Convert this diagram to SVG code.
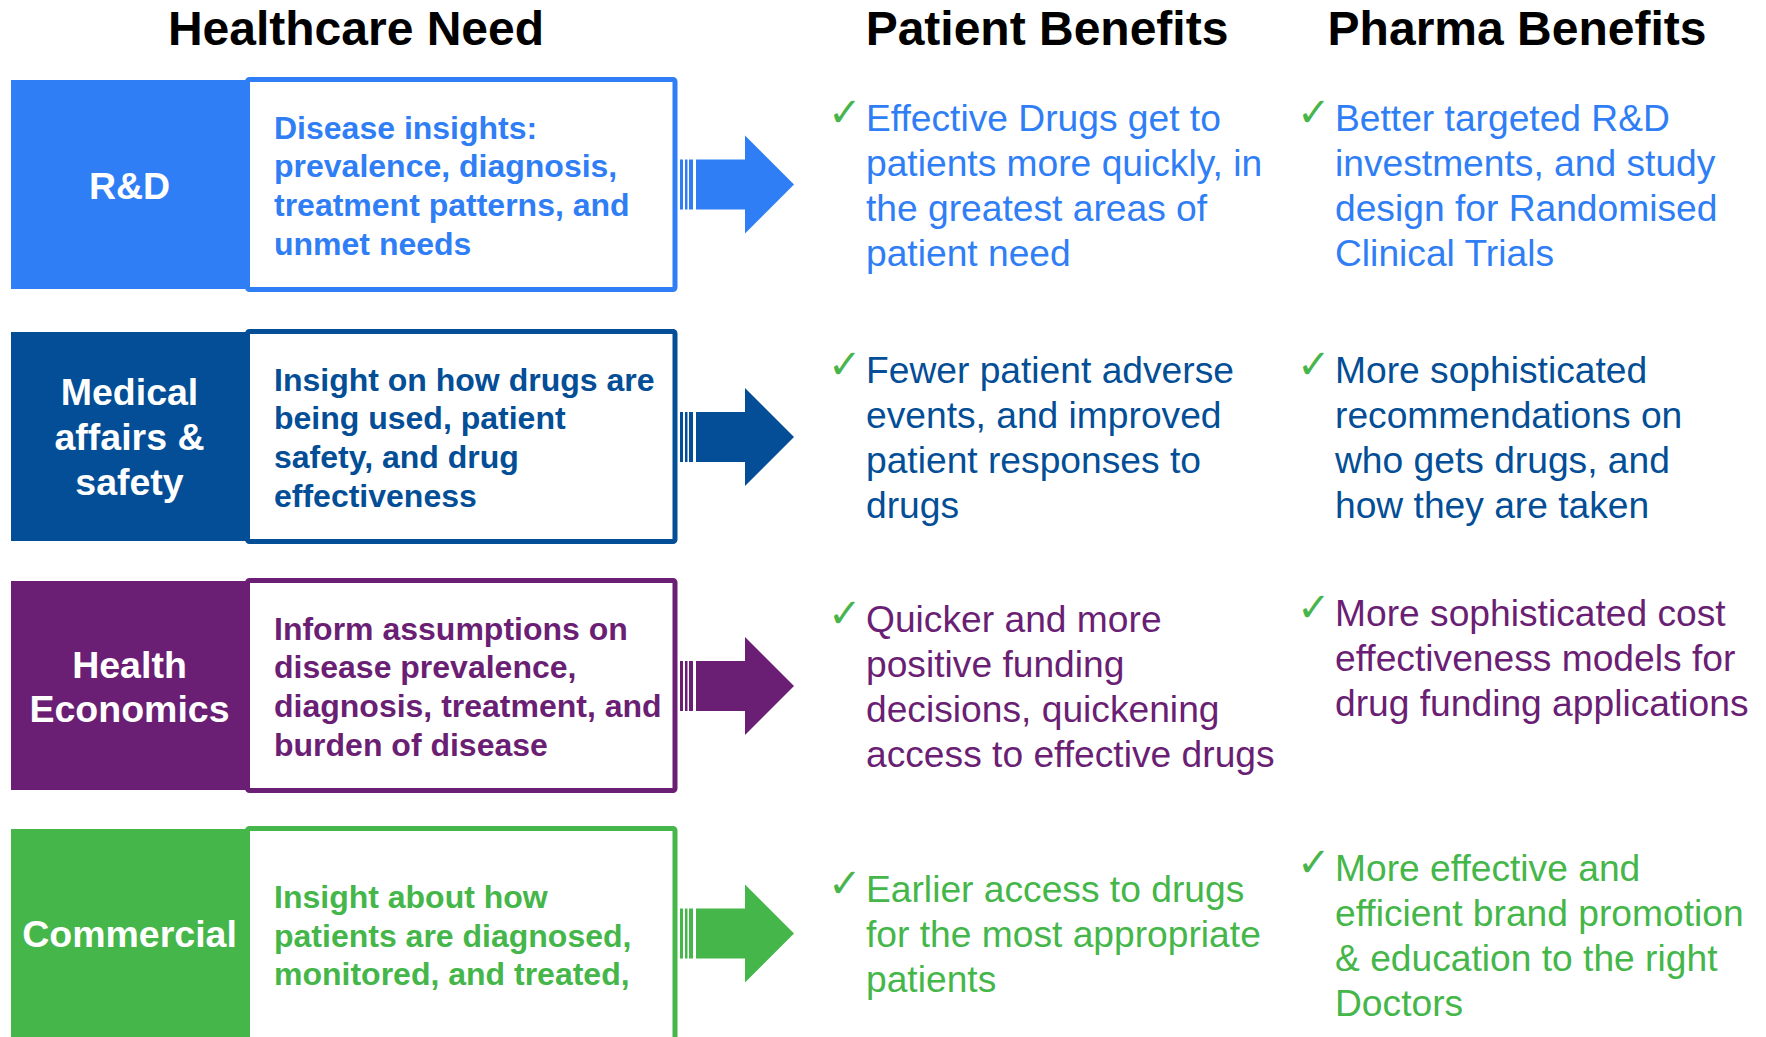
<svg xmlns="http://www.w3.org/2000/svg" xmlns:xlink="http://www.w3.org/1999/xlink" width="1766" height="1037" viewBox="0 0 1766 1037">
<style>
  .title { font-family: "Liberation Sans", Arial, sans-serif; font-weight: bold; font-size: 48px; fill: #000; text-anchor: middle; }
  .lab { font-family: "Liberation Sans", Arial, sans-serif; font-weight: bold; font-size: 37.5px; fill: #fff; text-anchor: middle; }
  .box { font-family: "Liberation Sans", Arial, sans-serif; font-weight: bold; font-size: 32px; }
  .ben { font-family: "Liberation Sans", Arial, sans-serif; font-size: 37.2px; }
  .chk { font-family: "DejaVu Sans", sans-serif; font-size: 40px; fill: #47B54B; }
  .frame { fill: #fff; stroke-width: 5; stroke-linejoin: round; }
  .c1 { fill: #2F7EF6; } .s1 { stroke: #2F7EF6; }
  .c2 { fill: #034E96; } .s2 { stroke: #034E96; }
  .c3 { fill: #6A1F74; } .s3 { stroke: #6A1F74; }
  .c4 { fill: #45B649; } .s4 { stroke: #45B649; }
</style>
<defs>
  <g id="arrow">
    <rect x="680" y="-25" width="3" height="50"/>
    <rect x="685" y="-25" width="2.5" height="50"/>
    <rect x="689" y="-25" width="4" height="50"/>
    <polygon points="696,-25 745,-25 745,-49 794,0 745,49 745,25 696,25"/>
  </g>
</defs>
<rect width="1766" height="1037" fill="#fff"/>

<g id="titles">
  <text class="title" x="356" y="45">Healthcare Need</text>
  <text class="title" x="1047" y="45">Patient Benefits</text>
  <text class="title" x="1517" y="45">Pharma Benefits</text>
</g>

<g id="row-rd">
  <rect class="c1" x="11" y="80" width="237" height="209"/>
  <text class="lab" x="129.5" y="199">R&amp;D</text>
  <rect class="frame s1" x="247.5" y="79.5" width="427.5" height="210" rx="2"/>
  <text class="box c1" x="274" y="138.5"><tspan x="274">Disease insights:</tspan><tspan x="274" dy="38.7">prevalence, diagnosis,</tspan><tspan x="274" dy="38.7">treatment patterns, and</tspan><tspan x="274" dy="38.7">unmet needs</tspan></text>
</g>

<g id="row-medical">
  <rect class="c2" x="11" y="332" width="237" height="209"/>
  <text class="lab" x="129.5" y="405"><tspan x="129.5">Medical</tspan><tspan x="129.5" dy="45">affairs &amp;</tspan><tspan x="129.5" dy="45">safety</tspan></text>
  <rect class="frame s2" x="247.5" y="331.5" width="427.5" height="210" rx="2"/>
  <text class="box c2" x="274" y="390.5"><tspan x="274">Insight on how drugs are</tspan><tspan x="274" dy="38.7">being used, patient</tspan><tspan x="274" dy="38.7">safety, and drug</tspan><tspan x="274" dy="38.7">effectiveness</tspan></text>
</g>

<g id="row-health-economics">
  <rect class="c3" x="11" y="581" width="237" height="209"/>
  <text class="lab" x="129.5" y="678"><tspan x="129.5">Health</tspan><tspan x="129.5" dy="44">Economics</tspan></text>
  <rect class="frame s3" x="247.5" y="580.5" width="427.5" height="210" rx="2"/>
  <text class="box c3" x="274" y="639.5"><tspan x="274">Inform assumptions on</tspan><tspan x="274" dy="38.7">disease prevalence,</tspan><tspan x="274" dy="38.7">diagnosis, treatment, and</tspan><tspan x="274" dy="38.7">burden of disease</tspan></text>
</g>

<g id="row-commercial">
  <rect class="c4" x="11" y="829" width="237" height="212"/>
  <text class="lab" x="129.5" y="947">Commercial</text>
  <rect class="frame s4" x="247.5" y="828.5" width="427.5" height="215" rx="2"/>
  <text class="box c4" x="274" y="908"><tspan x="274">Insight about how</tspan><tspan x="274" dy="38.5">patients are diagnosed,</tspan><tspan x="274" dy="38.5">monitored, and treated,</tspan></text>
</g>

<g id="connectors">
  <use xlink:href="#arrow" href="#arrow" class="c1" transform="translate(0,184.5)"/>
  <use xlink:href="#arrow" href="#arrow" class="c2" transform="translate(0,437)"/>
  <use xlink:href="#arrow" href="#arrow" class="c3" transform="translate(0,686)"/>
  <use xlink:href="#arrow" href="#arrow" class="c4" transform="translate(0,933.5)"/>
</g>

<g id="patient-rd">
  <text class="chk" x="828" y="126">✓</text>
  <text class="ben c1" x="866" y="130.7"><tspan x="866">Effective Drugs get to</tspan><tspan x="866" dy="45">patients more quickly, in</tspan><tspan x="866" dy="45">the greatest areas of</tspan><tspan x="866" dy="45">patient need</tspan></text>
</g>
<g id="pharma-rd">
  <text class="chk" x="1297" y="126">✓</text>
  <text class="ben c1" x="1335" y="130.7"><tspan x="1335">Better targeted R&amp;D</tspan><tspan x="1335" dy="45">investments, and study</tspan><tspan x="1335" dy="45">design for Randomised</tspan><tspan x="1335" dy="45">Clinical Trials</tspan></text>
</g>

<g id="patient-medical">
  <text class="chk" x="828" y="378">✓</text>
  <text class="ben c2" x="866" y="383"><tspan x="866">Fewer patient adverse</tspan><tspan x="866" dy="45">events, and improved</tspan><tspan x="866" dy="45">patient responses to</tspan><tspan x="866" dy="45">drugs</tspan></text>
</g>
<g id="pharma-medical">
  <text class="chk" x="1297" y="378">✓</text>
  <text class="ben c2" x="1335" y="383"><tspan x="1335">More sophisticated</tspan><tspan x="1335" dy="45">recommendations on</tspan><tspan x="1335" dy="45">who gets drugs, and</tspan><tspan x="1335" dy="45">how they are taken</tspan></text>
</g>

<g id="patient-he">
  <text class="chk" x="828" y="627">✓</text>
  <text class="ben c3" x="866" y="632"><tspan x="866">Quicker and more</tspan><tspan x="866" dy="45">positive funding</tspan><tspan x="866" dy="45">decisions, quickening</tspan><tspan x="866" dy="45">access to effective drugs</tspan></text>
</g>
<g id="pharma-he">
  <text class="chk" x="1297" y="621">✓</text>
  <text class="ben c3" x="1335" y="626"><tspan x="1335">More sophisticated cost</tspan><tspan x="1335" dy="45">effectiveness models for</tspan><tspan x="1335" dy="45">drug funding applications</tspan></text>
</g>

<g id="patient-commercial">
  <text class="chk" x="828" y="897">✓</text>
  <text class="ben c4" x="866" y="902"><tspan x="866">Earlier access to drugs</tspan><tspan x="866" dy="45">for the most appropriate</tspan><tspan x="866" dy="45">patients</tspan></text>
</g>
<g id="pharma-commercial">
  <text class="chk" x="1297" y="876">✓</text>
  <text class="ben c4" x="1335" y="881"><tspan x="1335">More effective and</tspan><tspan x="1335" dy="45">efficient brand promotion</tspan><tspan x="1335" dy="45">&amp; education to the right</tspan><tspan x="1335" dy="45">Doctors</tspan></text>
</g>
</svg>
